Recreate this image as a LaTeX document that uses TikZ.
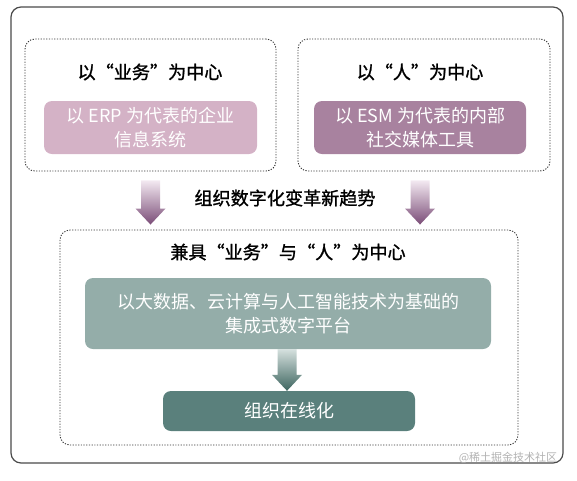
\documentclass[tikz,border=0pt]{standalone}
\usepackage{fontspec}
\newfontfamily\cjk{Noto Sans CJK SC}
\newfontfamily\cjkt[FakeBold=1.2]{Noto Sans CJK SC}
\usetikzlibrary{calc}
\definecolor{pinkA}{HTML}{D4B2C6}
\definecolor{pinkB}{HTML}{A8829F}
\definecolor{purpArrow}{HTML}{7A4C77}
\definecolor{purpTop}{HTML}{F3E9F1}
\definecolor{greenA}{HTML}{94ADA9}
\definecolor{greenB}{HTML}{5A807C}
\definecolor{greenArrow}{HTML}{3D655F}
\definecolor{greenTop}{HTML}{D5E0DE}
\definecolor{frame}{HTML}{4A4A4A}
\definecolor{dots}{HTML}{333333}
\tikzset{
  outerbox/.style={draw=frame, line width=1.2pt, rounded corners=10pt, inner sep=0pt},
  dotbox/.style={draw=dots, line width=0.9pt, dash pattern=on 1.2pt off 1.5pt, rounded corners=10pt, inner sep=0pt},
  fillbox/.style={rounded corners=8pt, inner sep=0pt, text=white, align=center,
     font=\cjk\fontsize{18}{24.5}\selectfont},
  titletext/.style={text=black, font=\cjkt\fontsize{18.1}{22}\selectfont, inner sep=0pt},
}
\newcommand\blockarr[4]{%
  \shade[top color=#1, bottom color=#2]
    ($(#3)+(-9.5,0)$) -- ($(#4)+(-9.5,-16)$) -- ($(#4)+(-15,-16)$) -- (#4)
    -- ($(#4)+(15,-16)$) -- ($(#4)+(9.5,-16)$) -- ($(#3)+(9.5,0)$) -- cycle;}
\begin{document}
\begin{tikzpicture}[x=1pt, y=-1pt]
\useasboundingbox (0,0) rectangle (577,480);
% outer frame
\node[outerbox, minimum width=552pt, minimum height=456pt] (outer) at (287,235) {};
% top dashed groups
\node[dotbox, minimum width=251pt, minimum height=132pt] (tl) at (150.5,105) {};
\node[dotbox, minimum width=252pt, minimum height=132pt] (tr) at (424,105) {};
\node[titletext] (tlt) at (150,72) {以“业务”为中心};
\node[titletext] (trt) at (420,72) {以“人”为中心};
\node[fillbox, fill=pinkA, minimum width=213pt, minimum height=53pt] (erp) at (150.5,127.5)
  {以 ERP 为代表的企业\\信息系统};
\node[fillbox, fill=pinkB, minimum width=212pt, minimum height=53pt] (esm) at (420,127.5)
  {以 ESM 为代表的内部\\社交媒体工具};
% bottom dashed group
\node[dotbox, minimum width=458pt, minimum height=215pt] (bot) at (289,337.5) {};
\node[titletext] (bott) at (288,252) {兼具“业务”与“人”为中心};
\node[fillbox, fill=greenA, minimum width=406pt, minimum height=71pt] (plat) at (288,313.5)
  {以大数据、云计算与人工智能技术为基础的\\集成式数字平台};
\node[fillbox, fill=greenB, minimum width=252pt, minimum height=40pt] (online) at (289,411)
  {组织在线化};
% middle label
\node[titletext] (trend) at (285,198) {组织数字化变革新趋势};
% arrows
\coordinate (a1s) at ($(tl.south -| erp.south)+(0,9)$);
\coordinate (a1t) at ($(a1s |- bot.north)+(0,-5)$);
\coordinate (a2s) at ($(tr.south -| esm.south)+(0,9)$);
\coordinate (a2t) at ($(a2s |- bot.north)+(0,-5)$);
\coordinate (a3s) at ($(plat.south)+(-1,0)$);
\coordinate (a3t) at (a3s |- online.north);
\blockarr{purpTop}{purpArrow}{a1s}{a1t}
\blockarr{purpTop}{purpArrow}{a2s}{a2t}
\blockarr{greenTop}{greenArrow}{a3s}{a3t}
% watermark
\node[text=black!30, font=\cjk\fontsize{11}{11}\selectfont, inner sep=0pt] (wm) at (508,458) {@稀土掘金技术社区};
\end{tikzpicture}
\end{document}
